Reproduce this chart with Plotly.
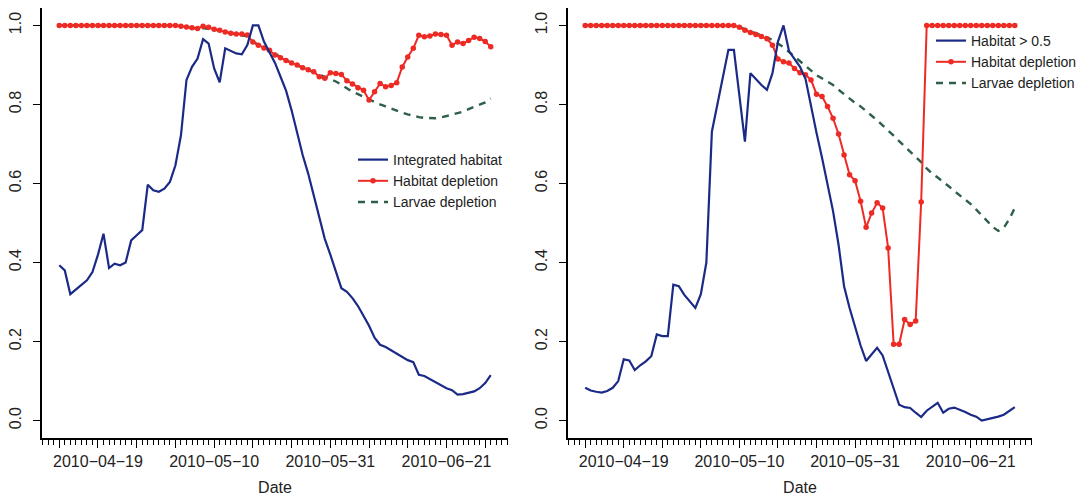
import pandas as pd
import plotly.graph_objects as go

# Daily series, 2010-04-12 .. 2010-06-29
dates = pd.date_range("2010-04-12", "2010-06-29", freq="D")

# Left panel
integrated_habitat = [
    0.393, 0.380, 0.320, 0.331, 0.343, 0.355, 0.376, 0.420, 0.473, 0.386,
    0.397, 0.393, 0.400, 0.456, 0.469, 0.482, 0.597, 0.583, 0.579, 0.587,
    0.604, 0.646, 0.722, 0.862, 0.895, 0.916, 0.965, 0.954, 0.891, 0.856,
    0.942, 0.936, 0.929, 0.927, 0.950, 1.000, 1.000, 0.959, 0.930, 0.905,
    0.870, 0.835, 0.785, 0.730, 0.672, 0.625, 0.570, 0.510, 0.460, 0.420,
    0.375, 0.335, 0.326, 0.310, 0.290, 0.265, 0.240, 0.210, 0.192, 0.186,
    0.178, 0.170, 0.160, 0.153, 0.148, 0.116, 0.113, 0.105, 0.097, 0.089,
    0.082, 0.077, 0.066, 0.067, 0.070, 0.074, 0.082, 0.095, 0.115,
]
habitat_depletion_left = [1.0] * 22 + [
    0.998, 0.996, 0.994, 0.992, 0.998, 0.995, 0.990, 0.988,
    0.983, 0.980, 0.978, 0.978, 0.976, 0.958, 0.950, 0.943, 0.937, 0.925,
    0.918, 0.911, 0.905, 0.900, 0.893, 0.888, 0.883, 0.870, 0.866, 0.880,
    0.878, 0.876, 0.860, 0.852, 0.842, 0.836, 0.811, 0.832, 0.853, 0.845,
    0.848, 0.855, 0.895, 0.920, 0.942, 0.975, 0.971, 0.973, 0.978, 0.977,
    0.975, 0.950, 0.958, 0.954, 0.962, 0.970, 0.967, 0.959, 0.946,
]
larvae_depletion_left = [1.0] * 22 + [
    0.998, 0.996, 0.994, 0.992, 0.993, 0.991, 0.989, 0.987,
    0.983, 0.980, 0.978, 0.976, 0.972, 0.960, 0.950, 0.943, 0.937, 0.928,
    0.920, 0.912, 0.905, 0.899, 0.893, 0.887, 0.881, 0.876, 0.870, 0.865,
    0.858, 0.850, 0.840, 0.832, 0.826, 0.819, 0.813, 0.806, 0.800, 0.795,
    0.789, 0.784, 0.779, 0.775, 0.771, 0.768, 0.766, 0.765, 0.765, 0.767,
    0.770, 0.774, 0.778, 0.782, 0.788, 0.793, 0.798, 0.805, 0.815,
]

# Right panel
habitat_above_half = [
    0.083, 0.076, 0.073, 0.071, 0.075, 0.083, 0.100, 0.155, 0.152, 0.128,
    0.140, 0.150, 0.163, 0.218, 0.214, 0.214, 0.344, 0.340, 0.318, 0.300,
    0.285, 0.320, 0.400, 0.731, 0.799, 0.874, 0.938, 0.938, 0.822, 0.706,
    0.879, 0.864, 0.849, 0.837, 0.879, 0.959, 1.000, 0.935, 0.915, 0.895,
    0.865, 0.795, 0.728, 0.665, 0.600, 0.530, 0.445, 0.340, 0.285, 0.235,
    0.190, 0.151, 0.168, 0.184, 0.165, 0.125, 0.080, 0.040, 0.034, 0.032,
    0.020, 0.009, 0.025, 0.035, 0.045, 0.020, 0.030, 0.033, 0.028, 0.022,
    0.015, 0.010, 0.000, 0.003, 0.006, 0.010, 0.015, 0.024, 0.034,
]
habitat_depletion_right = [1.0] * 28 + [
    0.995, 0.988, 0.982, 0.977, 0.972, 0.966, 0.950, 0.915, 0.908, 0.905,
    0.891, 0.880, 0.875, 0.862, 0.826, 0.820, 0.795, 0.765, 0.725, 0.672,
    0.622, 0.607, 0.555, 0.489, 0.525, 0.551, 0.538, 0.437, 0.193, 0.193,
    0.256, 0.243, 0.252, 0.553,
] + [1.0] * 17
larvae_depletion_right = [1.0] * 28 + [
    0.996, 0.991, 0.986, 0.981, 0.976, 0.970, 0.963, 0.955, 0.945, 0.933,
    0.921,
    0.908, 0.897, 0.886, 0.874, 0.866, 0.857, 0.849, 0.837, 0.826, 0.814,
    0.804, 0.795, 0.784, 0.772, 0.760, 0.747, 0.735, 0.721, 0.707, 0.694,
    0.681, 0.669, 0.654, 0.638, 0.625, 0.615, 0.605, 0.593, 0.581, 0.570,
    0.560, 0.548, 0.534, 0.519, 0.505, 0.490, 0.480, 0.488, 0.510, 0.538,
]

# Weekly ticks; only every third one carries a label
tick_dates = pd.date_range("2010-04-12", "2010-06-28", freq="7D")
tick_labels = ["", "2010\u221204\u221219", "", "", "2010\u221205\u221210", "", "",
               "2010\u221205\u221231", "", "", "2010\u221206\u221221", ""]

BLUE = "#1b2a86"
RED = "#ee2a24"
GREEN = "#2f5f48"
FONT = "Liberation Sans, Arial, sans-serif"

span = dates[-1] - dates[0]
x_range = [dates[0] - 0.04 * span, dates[-1] + 0.04 * span]

fig = go.Figure()


def add_panel(xa, ya, legend, blue, blue_name, red, green):
    fig.add_trace(go.Scatter(
        x=dates, y=green, mode="lines", name="Larvae depletion",
        line=dict(color=GREEN, width=2.4, dash="7px,6px"),
        xaxis=xa, yaxis=ya, legend=legend, legendrank=3,
    ))
    fig.add_trace(go.Scatter(
        x=dates, y=red, mode="lines+markers", name="Habitat depletion",
        line=dict(color=RED, width=2), marker=dict(color=RED, size=5.5),
        xaxis=xa, yaxis=ya, legend=legend, legendrank=2,
    ))
    fig.add_trace(go.Scatter(
        x=dates, y=blue, mode="lines", name=blue_name,
        line=dict(color=BLUE, width=2.2),
        xaxis=xa, yaxis=ya, legend=legend, legendrank=1,
    ))


add_panel("x", "y", "legend", integrated_habitat, "Integrated habitat",
          habitat_depletion_left, larvae_depletion_left)
add_panel("x2", "y2", "legend2", habitat_above_half, "Habitat > 0.5",
          habitat_depletion_right, larvae_depletion_right)

xaxis_style = dict(
    range=x_range, showgrid=False, zeroline=False,
    showline=True, linecolor="black", linewidth=1.8,
    ticks="outside", ticklen=8, tickwidth=1.4, tickcolor="black",
    tickmode="array", tickvals=tick_dates, ticktext=tick_labels,
    tickfont=dict(family=FONT, size=16, color="#222"),
    minor=dict(ticks="outside", ticklen=5, tickwidth=1.2, tickcolor="black",
               tickmode="linear", tick0="2010-04-12", dtick=86400000, showgrid=False),
    title=dict(text="Date", font=dict(family=FONT, size=16, color="#222"), standoff=13),
)
yaxis_style = dict(
    range=[-0.044, 1.044], showgrid=False, zeroline=False,
    showline=True, linecolor="black", linewidth=1.8,
    ticks="outside", ticklen=7, tickwidth=1.4, tickcolor="black",
    tickmode="linear", tick0=0, dtick=0.2, tickformat=".1f", tickangle=-90,
    tickfont=dict(family=FONT, size=16, color="#222"), ticklabelstandoff=6,
)

legend_style = dict(
    font=dict(family=FONT, size=14, color="#222"), bgcolor="rgba(0,0,0,0)",
    borderwidth=0, xanchor="left", yanchor="top", itemwidth=30, tracegroupgap=0,
)

fig.update_layout(
    width=1084, height=500,
    margin=dict(l=0, r=0, t=0, b=0),
    paper_bgcolor="white", plot_bgcolor="white",
    showlegend=True,
    xaxis=dict(domain=[42 / 1084, 508 / 1084], anchor="y", **xaxis_style),
    yaxis=dict(domain=[1 - 438 / 500, 1 - 8 / 500], anchor="x", **yaxis_style),
    xaxis2=dict(domain=[568 / 1084, 1032 / 1084], anchor="y2", **xaxis_style),
    yaxis2=dict(domain=[1 - 438 / 500, 1 - 8 / 500], anchor="x2", **yaxis_style),
    legend=dict(x=353 / 1084, y=1 - 144 / 500, **legend_style),
    legend2=dict(x=931 / 1084, y=1 - 25 / 500, **legend_style),
)

fig.write_html("out.html")
